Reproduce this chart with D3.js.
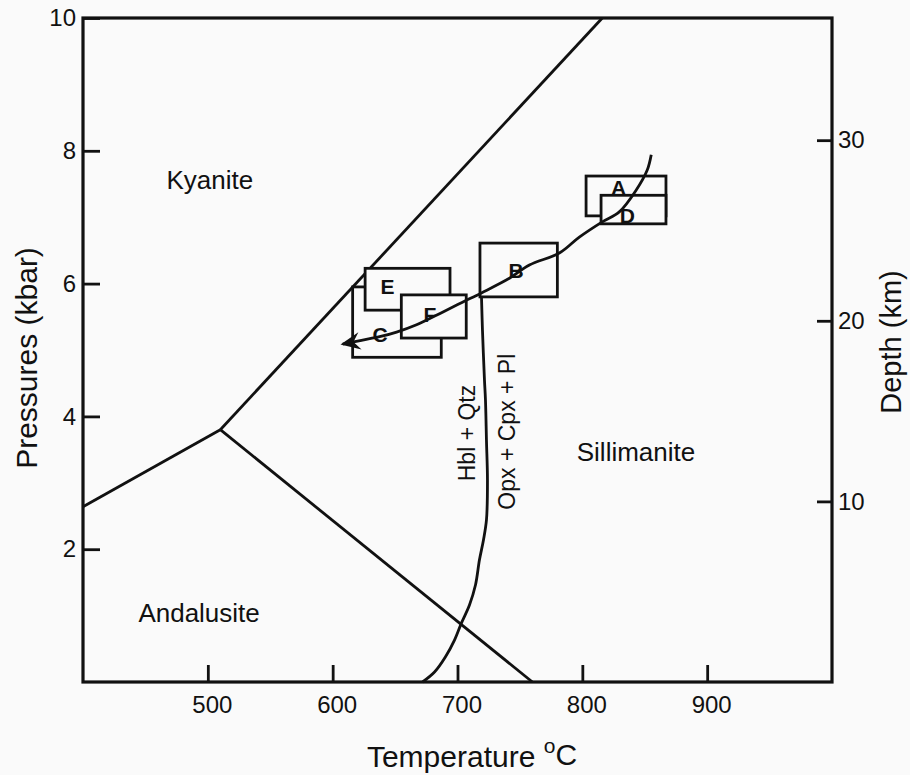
<!DOCTYPE html>
<html>
<head>
<meta charset="utf-8">
<script src="https://cdn.jsdelivr.net/npm/d3@7"></script>
<style>
  html, body { margin: 0; padding: 0; background: #fafafa; }
  svg { display: block; font-family: "Liberation Sans", Arial, Helvetica, sans-serif; }
</style>
</head>
<body>
<svg id="chart" width="910" height="775"></svg>
<script>
// ---------- data ----------
const xTicks = [500, 600, 700, 800, 900];
const yTicks = [2, 4, 6, 8, 10];
const depthTicks = [10, 20, 30];
const kbarPerKm = 0.272;

// phase boundaries [T (°C), P (kbar)]
const kyaniteSillimanite = [[510, 3.8], [816, 10]];
const kyaniteAndalusite = [[400, 2.64], [510, 3.8]];
const andalusiteSillimanite = [[510, 3.8], [760, 0]];
const hblReaction = [
  [672, 0], [681.6, 0.15], [690.4, 0.38], [697.6, 0.63], [703.2, 0.89],
  [709.6, 1.16], [714.4, 1.46], [717.6, 1.84], [720.8, 2.14], [723.2, 2.44],
  [724, 3.04], [723.2, 3.64], [722.4, 4.25], [721.6, 4.55], [720, 5.30], [719.2, 5.81]
];
const ptPath = [
  [855.2, 7.94], [852, 7.71], [843.2, 7.41], [829.6, 7.08], [816, 6.93],
  [797.6, 6.70], [781.6, 6.46], [757.6, 6.28], [741.6, 6.08], [719.2, 5.86],
  [704, 5.72], [688, 5.57], [667.2, 5.38], [651.2, 5.27], [637.6, 5.20],
  [624, 5.15], [613.6, 5.11], [608, 5.09]
];

// P-T boxes (drawn in this order)
const boxNames = ["A", "D", "B", "C", "E", "F"];
const boxTmin = [803, 815, 718, 616, 626, 655];
const boxTmax = [867, 867, 780, 687, 694, 707];
const boxPmin = [7.02, 6.90, 5.80, 4.89, 5.60, 5.18];
const boxPmax = [7.62, 7.33, 6.61, 5.95, 6.23, 5.83];
const boxLabelT = [829, 836, 747, 638, 644, 678];
const boxLabelP = [7.45, 7.02, 6.20, 5.23, 5.95, 5.53];

// field labels
const fieldNames = ["Kyanite", "Andalusite", "Sillimanite"];
const fieldT = [501.6, 493, 843];
const fieldP = [7.56, 1.04, 3.46];
const reactionNames = ["Hbl + Qtz", "Opx + Cpx + Pl"];
const reactionT = [708, 740];
const reactionP = [3.75, 3.77];

// ---------- layout ----------
const mL = 83, mR = 832, mT = 18, mB = 682;
const svg = d3.select("#chart");
const x = d3.scaleLinear().domain([400, 1000]).range([mL, mR]);
const y = d3.scaleLinear().domain([0, 10]).range([mB, mT]);
const yDepth = d3.scaleLinear().domain([0, 10 / kbarPerKm]).range([mB, mT]);

const line = d3.line().x(d => x(d[0])).y(d => y(d[1]));
const curve = d3.line().x(d => x(d[0])).y(d => y(d[1])).curve(d3.curveCatmullRom.alpha(0.5));

svg.append("defs").append("marker")
  .attr("id", "arrow")
  .attr("viewBox", "0 0 20 20")
  .attr("refX", 17).attr("refY", 10)
  .attr("markerWidth", 22).attr("markerHeight", 22)
  .attr("markerUnits", "userSpaceOnUse")
  .attr("orient", "auto")
  .append("path")
  .attr("d", "M19,10 L1,2 L7,10 L1,18 Z")
  .attr("fill", "#111");

const ink = "#111";
const sw = 2.8;

// phase boundaries
[kyaniteSillimanite, kyaniteAndalusite, andalusiteSillimanite].forEach(seg => {
  svg.append("path").attr("d", line(seg))
    .attr("fill", "none").attr("stroke", ink).attr("stroke-width", sw);
});

// boxes
const boxes = boxNames.map((n, i) => ({
  n, t0: boxTmin[i], t1: boxTmax[i], p0: boxPmin[i], p1: boxPmax[i],
  lt: boxLabelT[i], lp: boxLabelP[i]
}));
svg.append("g").selectAll("rect").data(boxes).join("rect")
  .attr("x", d => x(d.t0)).attr("y", d => y(d.p1))
  .attr("width", d => x(d.t1) - x(d.t0))
  .attr("height", d => y(d.p0) - y(d.p1))
  .attr("fill", "#fafafa").attr("stroke", ink).attr("stroke-width", sw);

svg.append("g").selectAll("text").data(boxes).join("text")
  .attr("x", d => x(d.lt)).attr("y", d => y(d.lp))
  .attr("text-anchor", "middle").attr("dominant-baseline", "central")
  .attr("font-size", 21).attr("font-weight", "bold").attr("fill", ink)
  .text(d => d.n);

// reaction curve
svg.append("path").attr("d", curve(hblReaction))
  .attr("fill", "none").attr("stroke", ink).attr("stroke-width", sw);

// P-T path
svg.append("path").attr("d", curve(ptPath))
  .attr("fill", "none").attr("stroke", ink).attr("stroke-width", sw)
  .attr("marker-end", "url(#arrow)");

// frame
svg.append("rect").attr("x", mL).attr("y", mT)
  .attr("width", mR - mL).attr("height", mB - mT)
  .attr("fill", "none").attr("stroke", ink).attr("stroke-width", 3.2);

// axes
const axB = svg.append("g").attr("transform", `translate(0,${mB})`)
  .call(d3.axisBottom(x).tickValues(xTicks).tickSize(-17).tickPadding(14).tickFormat(d3.format("d")));
const axL = svg.append("g").attr("transform", `translate(${mL},0)`)
  .call(d3.axisLeft(y).tickValues(yTicks).tickSize(-17).tickPadding(7).tickFormat(d3.format("d")));
const axR = svg.append("g").attr("transform", `translate(${mR},0)`)
  .call(d3.axisRight(yDepth).tickValues(depthTicks).tickSize(-15).tickPadding(6).tickFormat(d3.format("d")));
[axB, axL, axR].forEach(g => {
  g.select(".domain").remove();
  g.selectAll(".tick line").attr("stroke", ink).attr("stroke-width", sw);
  g.selectAll(".tick text").attr("fill", ink).attr("font-size", 24)
    .attr("font-family", "Liberation Sans, Arial, sans-serif");
});
axB.selectAll(".tick text").attr("dx", 4);

// field labels
fieldNames.forEach((n, i) => {
  svg.append("text").attr("x", x(fieldT[i])).attr("y", y(fieldP[i]))
    .attr("text-anchor", "middle").attr("dominant-baseline", "central")
    .attr("font-size", 26).attr("fill", ink).text(n);
});
reactionNames.forEach((n, i) => {
  svg.append("text")
    .attr("transform", `translate(${x(reactionT[i])},${y(reactionP[i])}) rotate(-90)`)
    .attr("text-anchor", "middle").attr("dominant-baseline", "central")
    .attr("font-size", 23).attr("fill", ink).text(n);
});

// axis titles
const xt = svg.append("text").attr("x", 472).attr("y", 767)
  .attr("text-anchor", "middle").attr("font-size", 30).attr("fill", ink);
xt.append("tspan").text("Temperature ");
xt.append("tspan").attr("dy", -14).attr("font-size", 21).text("o");
xt.append("tspan").attr("dy", 12).text("C");

svg.append("text")
  .attr("transform", `translate(37,358) rotate(-90)`)
  .attr("text-anchor", "middle").attr("font-size", 30).attr("fill", ink)
  .text("Pressures (kbar)");

svg.append("text")
  .attr("transform", `translate(901,342) rotate(-90)`)
  .attr("text-anchor", "middle").attr("font-size", 29).attr("fill", ink)
  .text("Depth (km)");
</script>
</body>
</html>
